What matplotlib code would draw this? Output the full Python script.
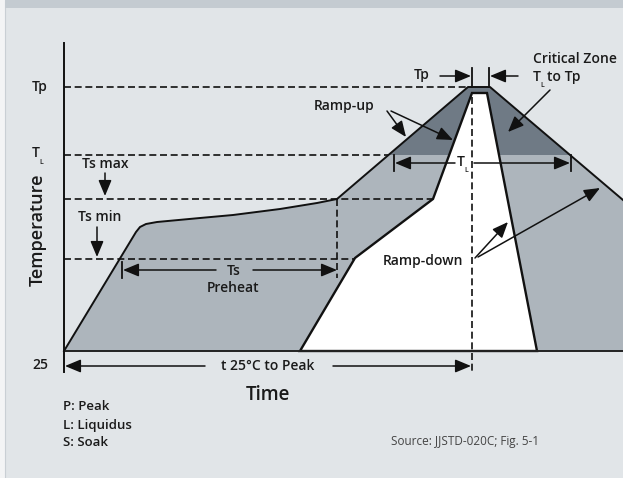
import matplotlib.pyplot as plt
from matplotlib.patches import Polygon, Rectangle

# schematic levels (pixel rows of the diagram, y grows downward)
T_25 = 351
Ts_min = 259
Ts_max = 199
T_L = 155
T_p = 87

# reflow profile (outer envelope) and inner (white) envelope
profile_x = [64, 136, 140, 146, 157, 200, 233, 280, 317, 337, 468, 490, 623]
profile_y = [351, 232, 227, 224, 222, 218, 215, 209, 203, 199, 87, 87, 200]
inner_x = [300, 355, 433, 472, 487, 537]
inner_y = [351, 258, 199, 93, 93, 351]

bg = "#e1e5e8"
mid = "#adb5bc"
dark = "#6f7a85"
FONT = "Open Sans"

fig = plt.figure(figsize=(6.23, 4.78), dpi=100)
fig.patch.set_facecolor("#f3f4f5")
ax = fig.add_axes([0, 0, 1, 1])
ax.set_xlim(0, 623)
ax.set_ylim(478, 0)
ax.axis("off")

# panel + top band
ax.add_patch(Rectangle((5, 0), 620, 480, facecolor=bg, edgecolor="#c9cfd4", lw=0.8, zorder=0))
ax.add_patch(Rectangle((5, 0), 620, 8, facecolor="#c4cbd1", edgecolor="none", zorder=0.5))

# filled regions
outer = list(zip(profile_x, profile_y)) + [(623, T_25)]
ax.add_patch(Polygon(outer, closed=True, facecolor=mid, edgecolor="none", zorder=1))

def x_on(x0, y0, x1, y1, y):
    return x0 + (x1 - x0) * (y - y0) / (y1 - y0)

xl = x_on(337, 199, 468, 87, T_L)
xr = x_on(490, 87, 623, 200, T_L)
ax.add_patch(Polygon([(xl, T_L), (468, T_p), (490, T_p), (xr, T_L)], closed=True,
                     facecolor=dark, edgecolor="none", zorder=1.5))
ax.add_patch(Polygon(list(zip(inner_x, inner_y)), closed=True, facecolor="white",
                     edgecolor="#111111", lw=1.7, joinstyle="miter", zorder=2))

ax.plot(profile_x, profile_y, color="#111111", lw=1.4, zorder=3)
ax.plot([64, 623], [T_25, T_25], color="#222222", lw=1.4, zorder=3)
ax.plot([64, 64], [43, 372], color="#111111", lw=1.4, zorder=3)

# dashed guide lines
ds = dict(color="#111111", lw=1.2, linestyle=(0, (4.2, 2.2)), zorder=2.5)
ax.plot([64, 468], [T_p, T_p], **ds)
ax.plot([64, xl], [T_L, T_L], **ds)
ax.plot([64, 433], [Ts_max, Ts_max], **ds)
ax.plot([64, 355], [Ts_min, Ts_min], **ds)
ax.plot([337, 337], [Ts_max, 278], **ds)
ax.plot([472, 472], [97, 372], **ds)

# ticks
sl = dict(color="#111111", lw=1.3, zorder=3)
ax.plot([122, 122], [262, 278], **sl)
ax.plot([394, 394], [T_L, 171], **sl)
ax.plot([571, 571], [T_L, 171], **sl)
ax.plot([472, 472], [68, T_p], **sl)
ax.plot([489, 489], [68, T_p], **sl)


def arrow(x0, y0, x1, y1, lw=1.1):
    ax.annotate("", xy=(x1, y1), xytext=(x0, y0),
                arrowprops=dict(arrowstyle="-|>,head_length=0.6,head_width=0.25",
                                color="#111111", lw=lw,
                                mutation_scale=16, shrinkA=0, shrinkB=0), zorder=4)


arrow(105, 173, 105, 196)
arrow(97, 227, 97, 257)
arrow(216, 270, 123, 270)
arrow(253, 270, 337, 270)
arrow(205, 366, 65, 366)
arrow(333, 366, 471, 366)
arrow(455, 163, 395, 163)
arrow(474, 163, 570, 163)
arrow(440, 76, 471, 76)
arrow(518, 76, 490, 76)
arrow(550, 90, 508, 132)
arrow(387, 111, 406, 137)
arrow(391, 111, 453, 140)
arrow(475, 258, 508, 222)
arrow(478, 257, 600, 188)

tk = dict(fontfamily=FONT, fontweight="semibold", color="#1a1a1a", zorder=5)
ax.text(40, 87, "Tp", fontsize=10, ha="center", va="center", **tk)
ax.text(36, 153, "T", fontsize=10, ha="center", va="center", **tk)
ax.text(41, 162, "L", fontsize=5, ha="center", va="center", **tk)
ax.text(38, 230, "Temperature", fontsize=13, rotation=90, ha="center", va="center", **tk)
ax.text(40, 365, "25", fontsize=10, ha="center", va="center", **tk)
ax.text(105, 164, "Ts max", fontsize=10, ha="center", va="center", **tk)
ax.text(100, 217, "Ts min", fontsize=10, ha="center", va="center", **tk)
ax.text(234, 271, "Ts", fontsize=10, ha="center", va="center", **tk)
ax.text(233, 288, "Preheat", fontsize=10, ha="center", va="center", **tk)
ax.text(268, 366, "t 25\u00b0C to Peak", fontsize=10, ha="center", va="center", **tk)
ax.text(268, 395, "Time", fontsize=13.5, ha="center", va="center", **tk)
ax.text(63, 406, "P: Peak", fontsize=9.5, ha="left", va="center", **tk)
ax.text(63, 425, "L: Liquidus", fontsize=9.5, ha="left", va="center", **tk)
ax.text(63, 443, "S: Soak", fontsize=9.5, ha="left", va="center", **tk)
ax.text(465, 442, "Source: JJSTD-020C; Fig. 5-1", fontsize=8.5, ha="center", va="center",
        fontfamily=FONT, color="#444444", zorder=5)
ax.text(344, 106, "Ramp-up", fontsize=10, ha="center", va="center", **tk)
ax.text(423, 261, "Ramp-down", fontsize=10, ha="center", va="center", **tk)
ax.text(575, 59, "Critical Zone", fontsize=10, ha="center", va="center", **tk)
ax.text(533, 77, "T", fontsize=10, ha="left", va="center", **tk)
ax.text(540, 85, "L", fontsize=5, ha="left", va="center", **tk)
ax.text(547, 77, "to Tp", fontsize=10, ha="left", va="center", **tk)
ax.text(422, 75, "Tp", fontsize=10, ha="center", va="center", **tk)
ax.text(461, 162, "T", fontsize=10, ha="center", va="center", **tk)
ax.text(466, 171, "L", fontsize=5, ha="center", va="center", **tk)

fig.savefig("out.png", dpi=100, facecolor=fig.get_facecolor())
